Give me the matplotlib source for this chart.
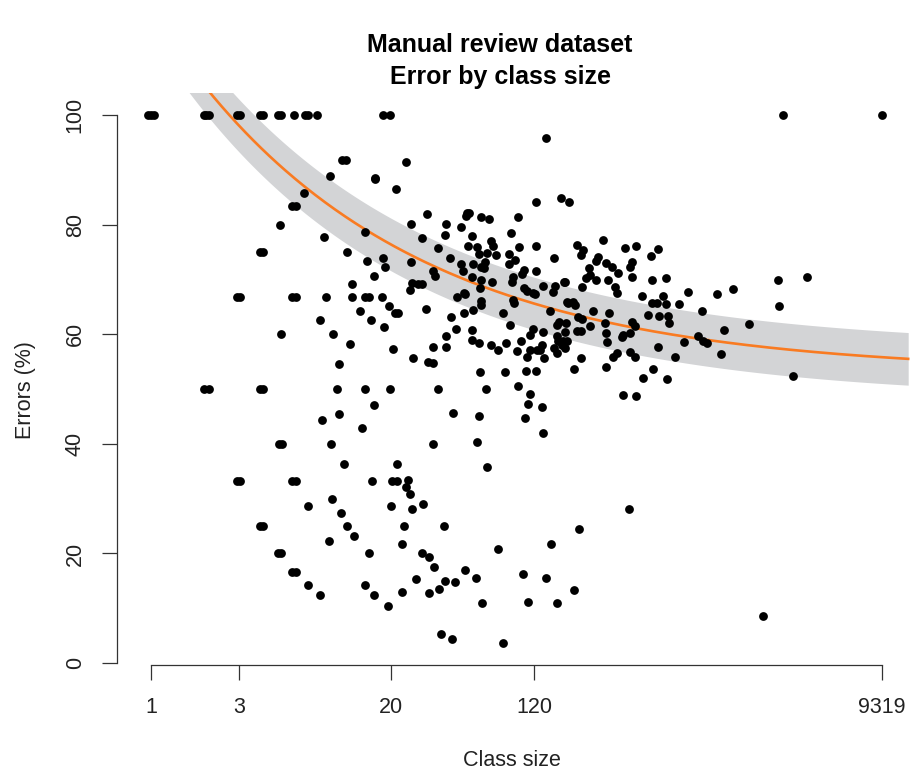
import numpy as np
import matplotlib
matplotlib.use("Agg")
import matplotlib.pyplot as plt

plt.rcParams['font.family'] = ['Liberation Sans', 'DejaVu Sans']

# small classes (error = k/n), slightly jittered along x
small_size = [0.96, 1.0, 1.04, 1.93, 2.0, 2.07, 2.92, 3.05, 3.9, 4.05, 4.9, 5.05, 6.0, 6.85, 7.1, 8.0,
              18.2, 19.8, 10.9, 11.5, 9.4, 16.4, 6.8, 5.8, 6.1, 5.0, 8.7, 14.5, 3.9, 4.05, 11.6, 14.9,
              16.3, 12.3, 2.92, 3.06, 5.85, 6.1, 8.9, 12.3, 14.5, 15.3, 13.6, 8.3, 15.6, 5.1, 9.7,
              12.0, 10.5, 1.93, 2.07, 3.9, 4.05, 10.2, 14.5, 16.3, 10.5, 8.5, 14.0, 4.95, 5.15, 9.5,
              11.2, 2.92, 3.06, 5.85, 6.1, 15.8, 9.6, 7.1, 10.7, 3.9, 4.05, 11.6, 12.6, 9.3, 4.9,
              5.1, 15.2, 5.85, 6.1, 7.1, 14.5, 8.3, 16.2]
small_err = [100, 100, 100, 100, 100, 100, 100, 100, 100, 100, 100, 100, 100, 100, 100, 100,
             100, 100, 91.7, 91.7, 88.9, 88.5, 85.7, 83.3, 83.3, 80, 77.8, 78.6, 75, 75, 75, 73.3,
             70.7, 69.2, 66.7, 66.7, 66.7, 66.7, 66.7, 66.7, 66.7, 66.7, 64.3, 62.5, 62.5, 60, 60,
             58.3, 54.5, 50, 50, 50, 50, 50, 50, 47.1, 45.5, 44.4, 42.9, 40, 40, 40,
             36.4, 33.3, 33.3, 33.3, 33.3, 33.3, 30, 28.6, 27.3, 25, 25, 25, 23.1, 22.2, 20,
             20, 20, 16.7, 16.7, 14.3, 14.3, 12.5, 12.5]

# mid-size classes
mid_size = [139, 24.2, 16.5, 21.4, 123, 168, 186, 31.5, 52, 53.5, 51, 62, 68, 98, 25.8, 40, 48,
            39.5, 55, 90, 29.6, 70, 72, 52.6, 58.9, 36, 99.5, 123, 60, 67, 74.6, 88, 18.2, 42,
            65, 94.7, 154, 18.6, 25.8, 48, 56, 62, 64, 88, 34, 49.5, 106, 123, 34.8, 103, 55,
            62, 71, 91, 92, 26, 28, 29.5, 25.5, 50, 61, 106, 110, 118, 121, 134, 152, 156, 177,
            18, 19.6, 45.8, 50.5, 62, 31, 21, 21.8, 42.5, 50, 56, 62, 92, 93, 81.5, 147, 184,
            18.4, 40, 45, 55, 55, 60.5, 34, 40, 20.6, 70, 76.5, 84.6, 89, 97, 102, 114, 118,
            134, 133, 160, 165, 160, 162, 155, 160, 177, 180, 114, 124, 129, 110, 136, 26.4, 32,
            34, 61, 83.5, 108.6, 123, 19.9, 36, 66, 98, 114, 43.6, 60, 111, 133, 107, 134, 34,
            59, 21.7, 66.7, 20.3, 21.7, 24.8, 24.2, 25.5, 20.1, 26, 30, 23.6, 39, 23, 29.6, 32.3,
            34.4, 27.5, 39.5, 44.7, 50.7, 58, 36.6, 32.3, 23, 19.4, 62.7, 76.5, 37.5, 43, 81.5,
            105, 139, 149, 111, 160]
mid_err = [95.8, 91.4, 88.3, 86.5, 84.1, 84.9, 84.1, 81.9, 82.1, 82.1, 81.6, 81.4, 81.0, 81.4,
           80.1, 80.1, 79.6, 78.1, 77.9, 78.5, 77.6, 77.0, 76.1, 76.1, 75.9, 75.7, 75.9, 76.1,
           74.6, 74.8, 74.5, 74.6, 73.9, 73.9, 73.2, 73.5, 73.9, 72.3, 73.2, 72.8, 72.8, 72.3,
           72.0, 72.8, 71.5, 71.5, 71.7, 71.5, 70.6, 71.0, 70.4, 69.9, 69.5, 69.5, 70.4, 69.3,
           69.2, 69.2, 68.1, 67.5, 68.4, 68.4, 67.9, 67.5, 67.3, 68.8, 67.7, 68.8, 69.5,
           66.8, 65.1, 66.8, 67.3, 66.1, 64.6, 63.9, 63.9, 63.1, 63.9, 64.4, 65.3, 66.2, 65.7,
           63.9, 64.2, 65.7,
           61.3, 59.7, 60.9, 60.8, 58.9, 58.4, 57.7, 57.7, 57.3, 58.0, 57.1, 58.4, 61.7, 56.9,
           58.8, 59.9, 60.9, 60.4, 58.0, 61.7, 62.3, 59.7, 58.8, 57.5, 56.6, 57.5, 62.0, 57.1,
           57.1, 57.1, 55.8, 55.7, 55.7, 54.9, 54.7, 53.1, 53.1, 53.3, 53.3, 50, 50, 50, 50.5,
           49.1, 45.6, 45.1, 47.3, 46.7, 44.7, 42.0, 40.0, 40.3, 36.3, 35.8, 33.2, 33.2, 33.4,
           32.1, 30.8, 28.6, 28.1, 29.0, 25.0, 25.0, 21.7, 20, 19.3, 17.5, 15.3, 15.0, 14.8,
           17.0, 15.5, 13.5, 12.8, 13.0, 10.4, 10.9, 20.8, 5.3, 4.4, 3.6, 16.2, 15.5, 21.7, 11.1,
           10.9]

# large classes
big_size = [394, 211, 198, 2100, 284, 205, 221, 216, 374, 430, 565, 518, 267, 262, 295, 318,
            343, 408, 398, 239, 242, 229, 262, 303, 408, 175, 525, 625, 219, 330, 337, 463, 602,
            823, 1183, 1445, 181, 195, 200, 625, 525, 558, 735, 980, 499, 573, 641, 649, 1763,
            251, 306, 208, 219, 242, 292, 295, 409, 424, 398, 365, 361, 177, 205, 216, 172, 181,
            170, 299, 1291, 933, 993, 1043, 783, 565, 1243, 700, 339, 322, 398, 424, 216, 198,
            295, 532, 469, 633, 365, 430, 2700, 9319, 2535, 3640, 2567, 3055]
big_err = [28.1, 24.5, 13.3, 8.6, 77.2, 76.3, 75.4, 74.5, 75.7, 76.1, 75.5, 74.3, 74.1, 73.4,
           73.0, 72.3, 71.2, 73.2, 72.3, 72.1, 70.8, 70.3, 69.9, 69.9, 70.4, 69.5, 69.9, 70.3,
           68.6, 68.6, 67.5, 67.0, 67.0, 67.7, 67.3, 68.2, 65.9, 65.9, 65.3, 65.5, 65.7, 65.7,
           65.5, 64.2, 63.5, 63.3, 63.3, 62.0, 61.9, 64.2, 63.9, 63.1, 62.8, 61.5, 62.0, 60.2,
           62.2, 61.5, 60.2, 59.9, 59.5, 60.4, 60.6, 60.6, 58.8, 58.8, 58.0, 58.6, 60.8, 59.7,
           58.8, 58.4, 58.6, 57.7, 56.4, 55.8, 56.6, 55.8, 56.8, 55.8, 55.7, 53.6, 54.0, 53.6,
           52.0, 51.8, 48.9, 48.7, 100, 100, 69.9, 70.4, 65.1, 52.4]

# fitted curve  err = asym + amp * exp(-rate * log10(size)), with band
fit_asym = 53.0
fit_amp = 65.9
fit_rate = 0.796
band_half = 4.8
curve_max = 12900

x_ticks = [1, 3, 20, 120, 9319]
y_ticks = [0, 20, 40, 60, 80, 100]

size = np.array(small_size + mid_size + big_size)
err = np.array(small_err + mid_err + big_err)

W, H = 911, 776
fig = plt.figure(figsize=(W / 100, H / 100), dpi=100)
ax = fig.add_axes([121.7 / W, (H - 685) / H, (911.4 - 121.7) / W, (685 - 93) / H])
ax.set_xscale('log')
ax.set_xlim(10 ** -0.159, 10 ** 4.128)
ax.set_ylim(-4, 104)

lx = np.linspace(-0.2, np.log10(curve_max), 400)
cx = 10 ** lx
cy = fit_asym + fit_amp * np.exp(-fit_rate * lx)
ax.fill_between(cx, cy - band_half, cy + band_half, color='#d3d4d6', lw=0, zorder=1)
ax.plot(cx, cy, color='#f97b22', lw=1.9, zorder=2)
ax.scatter(size, err, s=40, color='black', lw=0, zorder=3)

for s in ['top', 'right']:
    ax.spines[s].set_visible(False)
ax.spines['left'].set_position(('outward', 3.4))
ax.spines['bottom'].set_position(('data', -0.4))
ax.spines['left'].set_bounds(0, 100)
ax.spines['bottom'].set_bounds(1, 9319)
for s in ['left', 'bottom']:
    ax.spines[s].set_color('#333333')
    ax.spines[s].set_linewidth(0.9)

ax.set_xticks(x_ticks)
ax.set_xticklabels([str(t) for t in x_ticks])
ax.xaxis.set_minor_locator(matplotlib.ticker.NullLocator())
ax.set_yticks(y_ticks)
ax.set_yticklabels([str(t) for t in y_ticks], rotation=90, va='center')
ax.tick_params(length=10.5, width=0.9, color='#333333', labelsize=15.5, labelcolor='#222222')
ax.tick_params(axis='x', pad=12)
ax.tick_params(axis='y', pad=12)

fig.text(512 / W, 1 - 760 / H, 'Class size', ha='center', va='center', fontsize=15.5, color='#222222')
fig.text(25 / W, 1 - 390 / H, 'Errors (%)', ha='center', va='center', rotation=90, fontsize=15.5, color='#222222')
fig.text(500 / W, 1 - 45 / H, 'Manual review dataset', ha='center', va='center', fontsize=18, fontweight='bold')
fig.text(500 / W, 1 - 77 / H, 'Error by class size', ha='center', va='center', fontsize=18, fontweight='bold')

fig.savefig('out.png', dpi=100)
